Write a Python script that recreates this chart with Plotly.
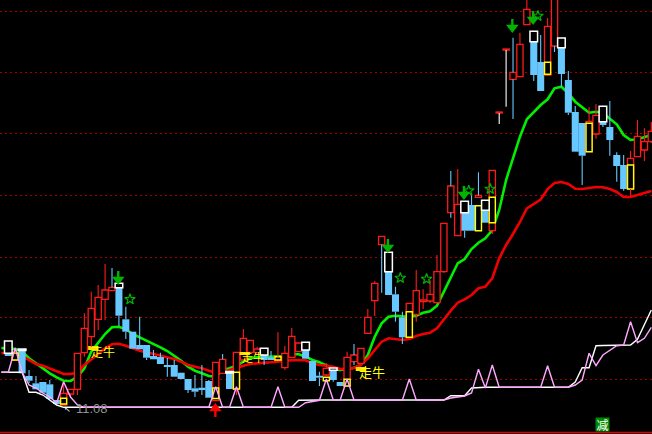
import plotly.graph_objects as go

# ---- candles: index order, price in chart units ----
kind = list("DUDDDDDDUU" "UUUUUUDDDD" "DDDDDDDDDD" "UUDUUUUDDU" "UUUDDDUDDU" "UUUUUDDDUU" "UUUUUUDDUD" "UUUUUUDDUU" "DDDDUUDDDD" "UUUU")
body_top = [92,81,84,58,50.7,52,49.7,34,40.7,44.7,80.7,105.7,125.7,136.7,144,146.7,146.7,114.7,102.3,89,89,78,77,69,69,61.3,55,45.7,46.3,53,71.7,74.7,61.7,81.7,95.7,93.7,85,79,76.7,77.3,80.7,97.7,91,84,73,58.3,65.7,64,52,76.7,79,85.7,116.7,150.7,197.7,162.3,139.7,116.7,130.7,143.3,134,139.7,162.3,210.7,248,229.7,221.3,229,238.7,223.7,263.7,322,385,361.7,389.7,424.7,392.3,372,407.7,454,386.3,354,322,311,312.7,318.7,312.3,307,279,269,275.7,297.7,292.3,302.7]
body_bot = [78,74,60.7,53.3,44.7,41.3,35,30,29,40,44.7,81.3,97.3,114.7,134.7,143.3,118.3,102.3,85.3,84.7,76.3,74.7,70,67.3,57.3,55,44,42.3,44.7,36.3,33.3,60.7,45,45,74,81.7,81.3,74,74,74,66.3,76.7,82.3,75.3,53,56.3,59,54,48,48,72.3,70.7,100.7,133.3,189.3,139,122.3,96.7,96.7,119.7,132.3,133,131.3,162.3,221.3,198.3,203.3,203.3,236.7,211.3,203.3,321,384,354.7,357.3,409.3,359,343,359,388,360,321.3,282.3,278.3,282.3,300,309,294,268,245,245,277.3,284,292.3]
high = [92,85,84,64,58,52,54,34,52.3,44.7,80.7,120.7,142.3,149,170,166,146.7,127.3,102.3,117.3,89,84,81.3,76,74,61.3,55,59,69,54,71.7,80,61.7,81.7,105,93.7,87.3,79,83,101.7,88,106,91,84,73,62.3,71,64,52,82.3,90,85.7,125,153,197.7,162.3,147.3,122.3,130.7,164,144.7,154,179,210.7,263,265,221.3,239,261.7,223.7,263.7,322,385,396.3,401.3,440,392.3,399,416,454,386.3,363,328,311,326.7,330,312.3,333,281.7,279,283,314,305.7,312]
low = [78,74,60.7,51,44.7,41.3,35,30,29,37.3,39,77.3,87,104,114,143.3,108,95,85.3,84.7,74,74.7,70,57.3,57.3,55,41,37,39,36.3,33.3,60.7,45,39,74,81.7,81.3,69,74,74,64,76.7,82.3,75.3,53,48,57,52.3,48,48,69,70.7,100.7,118,141.3,139,112.3,90,96.7,112.3,125,131,131.3,161,216.3,198.3,196.3,203.3,236.7,211.3,200,310,327.3,315,357.3,409.3,353,343,358,382,347.3,319,282.3,249,282.3,295.3,307,278.3,252.3,243.3,238.3,277.3,273,291]
cyan_wick = [15,31,50,54,64,68,73,79]
white_wick = [71,72]

# ---- indicator boxes: index, top, bottom ----
white_box_i = [0,2,16,32,37,43,47,55,66,69,76,80,86]
white_box_top = [93,85,150.7,62.5,85.7,91.7,66,181.7,232.7,233.7,402.7,396,327.7]
white_box_bot = [80.7,83.5,146.3,61,79,84,63.7,162.3,221.3,223.7,392.3,386.3,312.3]
yellow_box_i = [1,8,30,33,39,46,49,58,68,70,78,84,90]
yellow_box_top = [81,35.7,46,61.7,77.3,56.7,54.7,122.3,228.3,236.7,371.7,310.7,269]
yellow_box_bot = [74,30,35.5,45,74,53.3,48,96.7,203.3,211.3,359.7,282.3,245]
flag_i = [12.3,34.2,51]
flag_top = [88,82,67]
flag_bot = [84,79,63]

# ---- moving averages and lower indicator, starting one bar left of the first candle ----
line_i = list(range(-1,94))
ma_green = [86,85.7,85,82.3,75.7,70.7,65.7,60.7,56.7,53.3,53,57.3,65.7,82.3,91.3,100,106.7,107.3,104.7,100,96.7,93.3,90.7,86.7,83,78.3,73.3,67.3,63.3,60.7,58,57.3,64,65.7,68.3,72.3,75.7,76.7,77,77,77,78,79.7,79.7,77.3,74,71.7,68.3,65.3,64,64.7,66.3,69,79,97.3,110.7,117.3,118.3,118,117.3,118.3,121.3,122.7,128.3,142.3,157.3,170.7,175,185,191.3,195.7,204,224,254,275.7,297.3,314.7,322.3,329,334.7,345.7,347.3,340.7,332.3,326.7,321.3,322.3,321.3,315.3,309.7,299,294,294.7,296.7,299]
ma_red = [81,80.7,80,78,74,70,68.3,65.7,62.3,60,60,61.3,69,74.7,80.7,85.7,89.7,90.3,88.3,85.7,83.3,81.7,80,78,77,75,72.3,69,67.3,65.7,63.3,61.3,61.7,64,66.3,68.3,70,71,71.3,71.7,72,73,74,74,73.7,70.7,69,68.3,67.3,65,65,66,69,75.7,84,92.3,95.7,95,94,95,98,100,101.3,105.7,114.7,123.3,131.3,134.7,139,145.7,147.3,155.7,175.7,189,200,212,225.7,230,234.5,245,251,252,250,245.3,245,246,247,246.7,245,242,237,237,239,240.3,243]
pink = [61.7,61.7,86,61.7,49,46,41,37,31,52.3,37,29,26.7,26.7,26.7,26.7,26.7,26.7,26.7,26.7,26.7,26.7,26.7,26.7,26.7,26.7,26.7,26.7,26.7,26.7,26.7,47.3,26.7,26.7,47.3,26.7,26.7,26.7,26.7,26.7,47.3,26.7,26.7,26.7,31.3,32.7,33.7,55,34,34,55,34,34,34,34,34,34,34,34,55,34,34,34,34,34,36,37,38,41,64.7,46,69,46.7,46.7,46.7,46.7,46.7,46.7,46.7,68.3,46.7,46.7,46.7,49,54,80.7,68.3,79,84,88.3,89,112.3,91.3,95.7,106.7]
white = [61.7,61.7,61.7,61.7,41.7,41.7,39,34,29,26.7,26.7,26.7,26.7,26.7,26.7,26.7,26.7,26.7,26.7,26.7,26.7,26.7,26.7,26.7,26.7,26.7,26.7,26.7,26.7,26.7,26.7,26.7,26.7,26.7,26.7,26.7,26.7,26.7,26.7,26.7,26.7,26.7,26.7,33.7,34,34,34,34,34,34,34,34,34,34,34,34,34,34,34,34,34,34,34,34,34,38.3,38.3,38.3,46,46.7,46.7,46.7,46.7,46.7,46.7,46.7,46.7,46.7,46.7,46.7,46.7,46.7,46.7,52,66.3,66.3,88.3,88.5,88.5,88.5,88.5,89,94.7,109,124]

# ---- signals ----
down_arrow_i = [15.9,54.9,65.9,72.9,75.9]
down_arrow_tip = [151,183,236,403,411]
up_arrow_i = [29.95]
up_arrow_tip = [29]
star_i = [17.6,56.7,60.5,66.6,69.7,76.6]
star_v = [134.7,156,155,243.3,245,418]
grid_levels = [55,117,177,239,301,362,423]
base_level = [1.5]
bull_labels = [("走牛",13.7,83,12),("走牛",35.4,77,11),("走牛",52.6,63,13)]
low_label = "11.08"
low_label_i = 12.1
low_label_v = 26
low_mark_i = 8.5
low_mark_v = 25
badge = "减"
badge_i = 85.9
badge_v = 9.5

RED = "#ff1a1a"
BLUE = "#66c8ff"
GREEN = "#00f000"
SIG = "#00b400"
YAXIS = "y2"
n = len(body_top)
lengths = (len(kind), len(body_top), len(body_bot), len(high), len(low))
assert lengths == (94,)*5, lengths
assert (len(ma_green), len(ma_red), len(pink), len(white)) == (95,)*4, (len(ma_green), len(ma_red), len(pink), len(white))

fig = go.Figure()
# moving averages sit beneath the candles
fig.add_trace(go.Scatter(x=line_i, y=ma_green, mode="lines", line=dict(color=GREEN, width=2.6)))
fig.add_trace(go.Scatter(x=line_i, y=ma_red, mode="lines", line=dict(color="#f00000", width=2.6)))

# bodies
ups = [i for i in range(n) if kind[i] == "U"]
downs = [i for i in range(n) if kind[i] == "D"]
fig.add_trace(go.Bar(x=downs, base=[body_bot[i] for i in downs],
                     y=[body_top[i]-body_bot[i] for i in downs], width=1.02, yaxis=YAXIS,
                     marker=dict(color=BLUE, line=dict(width=0))))
fig.add_trace(go.Bar(x=ups, base=[body_bot[i] for i in ups],
                     y=[body_top[i]-body_bot[i] for i in ups], width=0.9, yaxis=YAXIS,
                     marker=dict(color="black", line=dict(color=RED, width=1.3))))
# indicator boxes
fig.add_trace(go.Bar(x=yellow_box_i, base=yellow_box_bot,
                     y=[t-b for t, b in zip(yellow_box_top, yellow_box_bot)], width=0.88, yaxis=YAXIS,
                     marker=dict(color="black", line=dict(color="#ffff00", width=1.4))))
fig.add_trace(go.Bar(x=white_box_i, base=white_box_bot,
                     y=[t-b for t, b in zip(white_box_top, white_box_bot)], width=1.1, yaxis=YAXIS,
                     marker=dict(color="black", line=dict(color="white", width=1.5))))
fig.add_trace(go.Bar(x=flag_i, base=flag_bot,
                     y=[t-b for t, b in zip(flag_top, flag_bot)], width=1.5, yaxis=YAXIS,
                     marker=dict(color="#ffe000", line=dict(width=0))))

# wicks, split so they never cross a body
def wick_xy(ids):
    xs, ys = [], []
    for i in ids:
        if high[i] > body_top[i]:
            xs += [i, i, None]; ys += [body_top[i], high[i], None]
        if low[i] < body_bot[i]:
            xs += [i, i, None]; ys += [body_bot[i], low[i], None]
    return xs, ys

red_ids = [i for i in ups if i not in cyan_wick and i not in white_wick]
blue_ids = downs + cyan_wick
for ids, col in ((red_ids, RED), (blue_ids, BLUE), (white_wick, "white")):
    wx, wy = wick_xy(ids)
    fig.add_trace(go.Scatter(x=wx, y=wy, mode="lines", yaxis=YAXIS, connectgaps=False,
                             line=dict(color=col, width=1.1)))

# lower indicator
fig.add_trace(go.Scatter(x=line_i, y=white, mode="lines", yaxis=YAXIS, line=dict(color="white", width=1.4)))
fig.add_trace(go.Scatter(x=line_i, y=pink, mode="lines", yaxis=YAXIS, line=dict(color="#ffa8ff", width=1.4)))

# arrows
sx, sy = [], []
for i, t in zip(down_arrow_i, down_arrow_tip):
    sx += [i, i, None]; sy += [t+4, t+12, None]
fig.add_trace(go.Scatter(x=sx, y=sy, mode="lines", yaxis=YAXIS, line=dict(color=SIG, width=2.4)))
fig.add_trace(go.Scatter(x=down_arrow_i, y=[t+3.5 for t in down_arrow_tip], mode="markers", yaxis=YAXIS,
                         marker=dict(symbol="triangle-down", size=11, color=SIG, line=dict(width=0))))
sx, sy = [], []
for i, t in zip(up_arrow_i, up_arrow_tip):
    sx += [i, i, None]; sy += [t-4, t-12, None]
fig.add_trace(go.Scatter(x=sx, y=sy, mode="lines", yaxis=YAXIS, line=dict(color="#ff0000", width=2.4)))
fig.add_trace(go.Scatter(x=up_arrow_i, y=[t-3.5 for t in up_arrow_tip], mode="markers", yaxis=YAXIS,
                         marker=dict(symbol="triangle-up", size=11, color="#ff0000", line=dict(width=0))))
# stars
fig.add_trace(go.Scatter(x=star_i, y=star_v, mode="markers", yaxis=YAXIS,
                         marker=dict(symbol="star-open", size=8, color=SIG, line=dict(color=SIG, width=1.2))))

# text
for txt, i, v, size in bull_labels:
    fig.add_annotation(x=i, y=v, text=txt, showarrow=False, yref="y2",
                       font=dict(family="Noto Sans CJK SC", size=size, color="#ffff00"))
fig.add_annotation(x=low_label_i, y=low_label_v, text=low_label, showarrow=False, yref="y2",
                   font=dict(family="Liberation Sans", size=13, color="#909090"))
fig.add_annotation(x=low_mark_i, y=low_mark_v, text="↖", showarrow=False, yref="y2",
                   font=dict(family="DejaVu Sans", size=8, color="white"))
fig.add_annotation(x=badge_i, y=badge_v, text=badge, showarrow=False, yref="y2", bgcolor="#008a00",
                   width=13, height=13, borderpad=0,
                   font=dict(family="Noto Sans CJK SC", size=12, color="white"))

# base line
fig.add_hline(y=base_level[0], line=dict(color="#e00000", width=1.4), yref="y")

Y_RANGE = [0, 434]
fig.update_layout(
    width=652, height=434, margin=dict(l=0, r=0, t=0, b=0),
    paper_bgcolor="black", plot_bgcolor="black", showlegend=False, barmode="overlay",
    xaxis=dict(range=[-1.2, 93.1], visible=False, showgrid=False, zeroline=False, fixedrange=True),
    yaxis=dict(range=Y_RANGE, tickmode="array", tickvals=grid_levels, showticklabels=False, ticks="",
               showgrid=True, gridcolor="#a00000", griddash="2px,3px", gridwidth=1, zeroline=False,
               showline=False, fixedrange=True),
    yaxis2=dict(range=Y_RANGE, overlaying="y", visible=False, showgrid=False, zeroline=False, fixedrange=True),
)
fig.write_html("out.html", config=dict(displayModeBar=False),
               post_script="document.body.style.margin='0';document.body.style.background='black';document.documentElement.style.overflow='hidden';")
